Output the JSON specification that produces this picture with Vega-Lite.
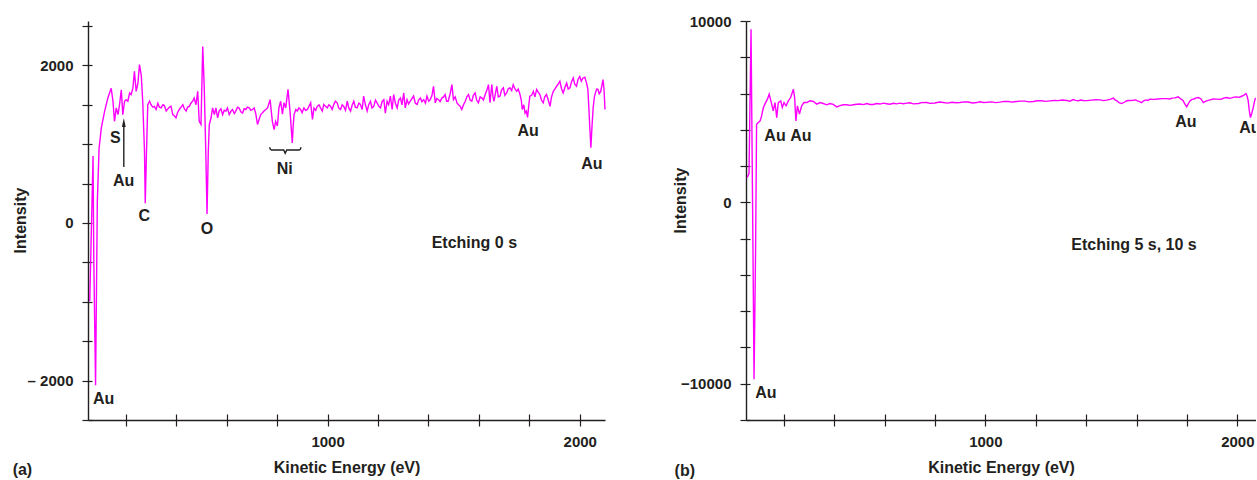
{
  "$schema": "https://vega.github.io/schema/vega-lite/v6.json",
  "padding": {"left": 12, "top": 14, "right": 0, "bottom": 0},
  "background": "white",
  "bounds": "flush",
  "spacing": 141,
  "config": {
    "font": "Liberation Sans",
    "view": {"stroke": null},
    "axis": {
      "grid": false,
      "domainColor": "#231f20", "domainWidth": 1.4,
      "tickColor": "#231f20", "tickWidth": 1.2, "tickSize": 6,
      "labelColor": "#231f20", "labelFont": "Liberation Sans", "labelFontSize": 15, "labelFontWeight": "bold",
      "titleColor": "#231f20", "titleFont": "Liberation Sans", "titleFontSize": 16, "titleFontWeight": "bold",
      "labelOverlap": false, "labelFlush": false, "labelBound": false
    }
  },
  "datasets": {
    "specA": [
      {"E":57,"I":-990},{"E":70,"I":850},{"E":73,"I":-480},{"E":80,"I":-2060},{"E":87,"I":280},{"E":94,"I":950},{"E":103,"I":1210},{"E":116,"I":1420},{"E":129,"I":1590},{"E":142,"I":1710},{"E":149,"I":1545},{"E":155,"I":1290},{"E":162,"I":1460},{"E":169,"I":1375},{"E":175,"I":1500},{"E":182,"I":1690},{"E":188,"I":1375},{"E":195,"I":1545},{"E":201,"I":1565},{"E":208,"I":1545},{"E":215,"I":1650},{"E":221,"I":1630},{"E":228,"I":1710},{"E":234,"I":1925},{"E":241,"I":1670},{"E":248,"I":1775},{"E":254,"I":2010},{"E":261,"I":1880},{"E":267,"I":1545},{"E":274,"I":910},{"E":277,"I":250},{"E":282,"I":910},{"E":287,"I":1500},{"E":294,"I":1545},{"E":300,"I":1500},{"E":307,"I":1470},{"E":313,"I":1480},{"E":320,"I":1440},{"E":327,"I":1520},{"E":333,"I":1470},{"E":340,"I":1460},{"E":347,"I":1500},{"E":353,"I":1490},{"E":360,"I":1420},{"E":366,"I":1445},{"E":373,"I":1470},{"E":379,"I":1480},{"E":386,"I":1375},{"E":392,"I":1360},{"E":399,"I":1335},{"E":405,"I":1400},{"E":412,"I":1440},{"E":419,"I":1470},{"E":426,"I":1500},{"E":432,"I":1450},{"E":439,"I":1420},{"E":445,"I":1470},{"E":452,"I":1480},{"E":458,"I":1520},{"E":465,"I":1545},{"E":471,"I":1585},{"E":478,"I":1500},{"E":485,"I":1670},{"E":491,"I":1290},{"E":498,"I":1250},{"E":505,"I":2240},{"E":511,"I":1710},{"E":517,"I":910},{"E":522,"I":115},{"E":527,"I":910},{"E":531,"I":1250},{"E":538,"I":1335},{"E":544,"I":1460},{"E":551,"I":1375},{"E":557,"I":1460},{"E":564,"I":1335},{"E":570,"I":1420},{"E":577,"I":1450},{"E":584,"I":1375},{"E":590,"I":1430},{"E":597,"I":1420},{"E":603,"I":1460},{"E":610,"I":1375},{"E":617,"I":1420},{"E":623,"I":1440},{"E":630,"I":1390},{"E":636,"I":1420},{"E":643,"I":1470},{"E":649,"I":1460},{"E":656,"I":1410},{"E":663,"I":1395},{"E":669,"I":1450},{"E":676,"I":1440},{"E":682,"I":1470},{"E":689,"I":1460},{"E":696,"I":1430},{"E":702,"I":1440},{"E":709,"I":1460},{"E":715,"I":1390},{"E":722,"I":1250},{"E":729,"I":1320},{"E":735,"I":1375},{"E":742,"I":1400},{"E":748,"I":1420},{"E":755,"I":1440},{"E":762,"I":1460},{"E":772,"I":1565},{"E":781,"I":1290},{"E":788,"I":1185},{"E":794,"I":1290},{"E":801,"I":1230},{"E":807,"I":1460},{"E":814,"I":1545},{"E":821,"I":1380},{"E":827,"I":1525},{"E":834,"I":1460},{"E":843,"I":1695},{"E":851,"I":1420},{"E":856,"I":1200},{"E":860,"I":1015},{"E":864,"I":1250},{"E":867,"I":1375},{"E":874,"I":1440},{"E":880,"I":1420},{"E":886,"I":1460},{"E":893,"I":1440},{"E":899,"I":1400},{"E":906,"I":1460},{"E":913,"I":1430},{"E":920,"I":1440},{"E":926,"I":1480},{"E":933,"I":1525},{"E":940,"I":1315},{"E":946,"I":1460},{"E":953,"I":1430},{"E":959,"I":1480},{"E":966,"I":1500},{"E":972,"I":1460},{"E":979,"I":1420},{"E":985,"I":1505},{"E":992,"I":1480},{"E":999,"I":1460},{"E":1005,"I":1500},{"E":1012,"I":1480},{"E":1018,"I":1440},{"E":1025,"I":1505},{"E":1031,"I":1545},{"E":1038,"I":1525},{"E":1044,"I":1460},{"E":1051,"I":1440},{"E":1058,"I":1500},{"E":1064,"I":1480},{"E":1071,"I":1430},{"E":1078,"I":1545},{"E":1084,"I":1460},{"E":1091,"I":1420},{"E":1097,"I":1490},{"E":1104,"I":1545},{"E":1110,"I":1470},{"E":1117,"I":1460},{"E":1124,"I":1520},{"E":1130,"I":1505},{"E":1137,"I":1440},{"E":1143,"I":1610},{"E":1150,"I":1500},{"E":1157,"I":1420},{"E":1163,"I":1500},{"E":1170,"I":1545},{"E":1176,"I":1460},{"E":1183,"I":1480},{"E":1190,"I":1560},{"E":1196,"I":1525},{"E":1203,"I":1480},{"E":1210,"I":1460},{"E":1216,"I":1540},{"E":1223,"I":1565},{"E":1229,"I":1395},{"E":1236,"I":1545},{"E":1242,"I":1500},{"E":1249,"I":1610},{"E":1256,"I":1440},{"E":1262,"I":1630},{"E":1269,"I":1520},{"E":1276,"I":1460},{"E":1282,"I":1560},{"E":1289,"I":1585},{"E":1295,"I":1500},{"E":1302,"I":1650},{"E":1308,"I":1460},{"E":1315,"I":1565},{"E":1321,"I":1510},{"E":1328,"I":1545},{"E":1335,"I":1580},{"E":1341,"I":1610},{"E":1348,"I":1520},{"E":1355,"I":1505},{"E":1361,"I":1560},{"E":1368,"I":1585},{"E":1374,"I":1540},{"E":1381,"I":1565},{"E":1388,"I":1520},{"E":1394,"I":1610},{"E":1401,"I":1545},{"E":1407,"I":1565},{"E":1414,"I":1620},{"E":1420,"I":1735},{"E":1427,"I":1525},{"E":1433,"I":1580},{"E":1440,"I":1565},{"E":1446,"I":1540},{"E":1453,"I":1585},{"E":1460,"I":1600},{"E":1466,"I":1630},{"E":1472,"I":1545},{"E":1478,"I":1545},{"E":1486,"I":1640},{"E":1493,"I":1755},{"E":1499,"I":1565},{"E":1506,"I":1600},{"E":1513,"I":1525},{"E":1519,"I":1500},{"E":1526,"I":1480},{"E":1532,"I":1440},{"E":1539,"I":1500},{"E":1546,"I":1545},{"E":1552,"I":1600},{"E":1559,"I":1630},{"E":1565,"I":1560},{"E":1572,"I":1545},{"E":1578,"I":1620},{"E":1585,"I":1650},{"E":1591,"I":1560},{"E":1598,"I":1525},{"E":1605,"I":1600},{"E":1612,"I":1585},{"E":1618,"I":1560},{"E":1625,"I":1630},{"E":1631,"I":1680},{"E":1638,"I":1755},{"E":1644,"I":1525},{"E":1651,"I":1755},{"E":1656,"I":1600},{"E":1660,"I":1545},{"E":1666,"I":1650},{"E":1671,"I":1735},{"E":1677,"I":1600},{"E":1684,"I":1610},{"E":1690,"I":1690},{"E":1697,"I":1715},{"E":1703,"I":1620},{"E":1710,"I":1650},{"E":1716,"I":1700},{"E":1723,"I":1715},{"E":1730,"I":1680},{"E":1736,"I":1755},{"E":1743,"I":1700},{"E":1750,"I":1670},{"E":1756,"I":1700},{"E":1763,"I":1630},{"E":1768,"I":1560},{"E":1772,"I":1440},{"E":1778,"I":1500},{"E":1783,"I":1395},{"E":1788,"I":1420},{"E":1793,"I":1340},{"E":1798,"I":1500},{"E":1802,"I":1610},{"E":1809,"I":1620},{"E":1816,"I":1670},{"E":1822,"I":1600},{"E":1829,"I":1695},{"E":1835,"I":1660},{"E":1842,"I":1630},{"E":1848,"I":1560},{"E":1855,"I":1525},{"E":1861,"I":1600},{"E":1868,"I":1630},{"E":1875,"I":1560},{"E":1882,"I":1480},{"E":1888,"I":1600},{"E":1895,"I":1670},{"E":1901,"I":1700},{"E":1908,"I":1735},{"E":1914,"I":1760},{"E":1921,"I":1800},{"E":1928,"I":1700},{"E":1934,"I":1650},{"E":1941,"I":1720},{"E":1948,"I":1775},{"E":1954,"I":1700},{"E":1961,"I":1715},{"E":1967,"I":1790},{"E":1974,"I":1840},{"E":1980,"I":1760},{"E":1987,"I":1735},{"E":1993,"I":1820},{"E":2000,"I":1860},{"E":2006,"I":1800},{"E":2013,"I":1840},{"E":2020,"I":1850},{"E":2027,"I":1775},{"E":2032,"I":1700},{"E":2036,"I":1460},{"E":2040,"I":1200},{"E":2044,"I":955},{"E":2048,"I":1200},{"E":2053,"I":1460},{"E":2058,"I":1600},{"E":2062,"I":1650},{"E":2067,"I":1700},{"E":2072,"I":1695},{"E":2077,"I":1640},{"E":2083,"I":1670},{"E":2088,"I":1750},{"E":2092,"I":1820},{"E":2096,"I":1700},{"E":2100,"I":1440}
    ],
    "specB": [
      {"E":55,"I":1368},{"E":62,"I":1600},{"E":70,"I":9545},{"E":76,"I":80},{"E":82,"I":-9754},{"E":88,"I":-2670},{"E":92,"I":4307},{"E":99,"I":4400},{"E":106,"I":4494},{"E":112,"I":4770},{"E":119,"I":5227},{"E":125,"I":5415},{"E":135,"I":5690},{"E":142,"I":5966},{"E":152,"I":5415},{"E":158,"I":5045},{"E":165,"I":5503},{"E":172,"I":4676},{"E":178,"I":5503},{"E":188,"I":5597},{"E":194,"I":5227},{"E":201,"I":5503},{"E":209,"I":5321},{"E":218,"I":5597},{"E":227,"I":5779},{"E":238,"I":6236},{"E":243,"I":5779},{"E":248,"I":4494},{"E":254,"I":5321},{"E":262,"I":4863},{"E":271,"I":5321},{"E":280,"I":5503},{"E":291,"I":5503},{"E":304,"I":5597},{"E":317,"I":5560},{"E":331,"I":5415},{"E":344,"I":5500},{"E":357,"I":5450},{"E":370,"I":5376},{"E":383,"I":5450},{"E":396,"I":5400},{"E":410,"I":5266},{"E":423,"I":5330},{"E":436,"I":5380},{"E":450,"I":5380},{"E":463,"I":5350},{"E":476,"I":5380},{"E":489,"I":5410},{"E":502,"I":5420},{"E":516,"I":5390},{"E":529,"I":5448},{"E":542,"I":5400},{"E":555,"I":5400},{"E":568,"I":5450},{"E":582,"I":5420},{"E":595,"I":5470},{"E":608,"I":5440},{"E":621,"I":5410},{"E":635,"I":5460},{"E":648,"I":5430},{"E":661,"I":5470},{"E":674,"I":5440},{"E":688,"I":5470},{"E":701,"I":5490},{"E":714,"I":5430},{"E":734,"I":5450},{"E":747,"I":5500},{"E":767,"I":5503},{"E":780,"I":5460},{"E":800,"I":5480},{"E":817,"I":5530},{"E":834,"I":5503},{"E":850,"I":5470},{"E":867,"I":5520},{"E":883,"I":5490},{"E":899,"I":5503},{"E":916,"I":5540},{"E":932,"I":5530},{"E":949,"I":5480},{"E":966,"I":5503},{"E":979,"I":5550},{"E":992,"I":5510},{"E":1008,"I":5520},{"E":1025,"I":5540},{"E":1041,"I":5500},{"E":1058,"I":5530},{"E":1074,"I":5570},{"E":1091,"I":5560},{"E":1107,"I":5530},{"E":1124,"I":5558},{"E":1140,"I":5580},{"E":1157,"I":5580},{"E":1173,"I":5540},{"E":1190,"I":5560},{"E":1206,"I":5600},{"E":1223,"I":5600},{"E":1239,"I":5570},{"E":1256,"I":5597},{"E":1272,"I":5620},{"E":1289,"I":5610},{"E":1305,"I":5640},{"E":1322,"I":5620},{"E":1335,"I":5580},{"E":1349,"I":5670},{"E":1358,"I":5620},{"E":1368,"I":5600},{"E":1378,"I":5640},{"E":1388,"I":5620},{"E":1404,"I":5610},{"E":1421,"I":5640},{"E":1438,"I":5660},{"E":1455,"I":5650},{"E":1468,"I":5610},{"E":1481,"I":5640},{"E":1495,"I":5680},{"E":1508,"I":5746},{"E":1515,"I":5650},{"E":1522,"I":5600},{"E":1530,"I":5500},{"E":1541,"I":5448},{"E":1551,"I":5520},{"E":1561,"I":5600},{"E":1574,"I":5620},{"E":1587,"I":5630},{"E":1596,"I":5650},{"E":1604,"I":5600},{"E":1612,"I":5560},{"E":1620,"I":5503},{"E":1628,"I":5600},{"E":1637,"I":5650},{"E":1645,"I":5620},{"E":1653,"I":5690},{"E":1669,"I":5680},{"E":1686,"I":5700},{"E":1702,"I":5720},{"E":1719,"I":5720},{"E":1732,"I":5700},{"E":1740,"I":5750},{"E":1752,"I":5760},{"E":1765,"I":5817},{"E":1776,"I":5700},{"E":1785,"I":5600},{"E":1792,"I":5420},{"E":1799,"I":5266},{"E":1806,"I":5450},{"E":1812,"I":5597},{"E":1820,"I":5680},{"E":1828,"I":5700},{"E":1836,"I":5760},{"E":1845,"I":5779},{"E":1856,"I":5700},{"E":1865,"I":5503},{"E":1872,"I":5560},{"E":1878,"I":5600},{"E":1891,"I":5650},{"E":1904,"I":5700},{"E":1918,"I":5690},{"E":1928,"I":5680},{"E":1938,"I":5700},{"E":1948,"I":5760},{"E":1958,"I":5779},{"E":1968,"I":5740},{"E":1977,"I":5760},{"E":1987,"I":5800},{"E":1997,"I":5817},{"E":2007,"I":5790},{"E":2017,"I":5850},{"E":2025,"I":5900},{"E":2034,"I":5999},{"E":2039,"I":5850},{"E":2043,"I":5597},{"E":2048,"I":5000},{"E":2052,"I":4676},{"E":2057,"I":4900},{"E":2063,"I":5227},{"E":2070,"I":5690},{"E":2078,"I":5779},{"E":2090,"I":5800}
    ],
    "labelsA": [
      {"E":158,"I":1079,"t":"S"},
      {"E":191,"I":533,"t":"Au"},
      {"E":273,"I":89,"t":"C"},
      {"E":522,"I":-76,"t":"O"},
      {"E":830,"I":689,"t":"Ni"},
      {"E":1795,"I":1167,"t":"Au"},
      {"E":2048,"I":745,"t":"Au"},
      {"E":112,"I":-2237,"t":"Au"},
      {"E":1582,"I":-254,"t":"Etching 0 s"},
      {"E":-210,"I":-3134,"t":"(a)"}
    ],
    "labelsB": [
      {"E":165,"I":3661,"t":"Au","c":false},
      {"E":268,"I":3661,"t":"Au","c":false},
      {"E":129,"I":-10493,"t":"Au","c":false},
      {"E":1796,"I":4450,"t":"Au","c":false},
      {"E":2050,"I":4119,"t":"Au","c":true},
      {"E":1590,"I":-2349,"t":"Etching 5 s, 10 s","c":false},
      {"E":-193,"I":-14811,"t":"(b)","c":false}
    ],
    "arrowLine": [{"E":192,"I":711,"I2":1231}],
    "arrowHead": [{"E":192,"I":1269}],
    "brace": [
      {"E":770,"I":960},{"E":773,"I":935},{"E":778,"I":926},{"E":826,"I":926},{"E":832,"I":885},{"E":838,"I":926},{"E":887,"I":926},{"E":892,"I":935},{"E":895,"I":960}
    ]
  },
  "hconcat": [
    {
      "width": 517,
      "height": 399,
      "layer": [
        {
          "layer": [
            {
              "data": {"name": "specA"},
              "mark": {"type": "line", "color": "#ff00ff", "strokeWidth": 1.4},
              "encoding": {
                "x": {"field": "E", "type": "quantitative", "scale": {"domain": [50, 2100], "nice": false, "zero": false},
                  "axis": {"values": [200,400,600,800,1000,1200,1400,1600,1800,2000], "tickCount": 30, "labelExpr": "datum.value == 1000 ? '1000' : datum.value == 2000 ? '2000' : ''", "labelOverlap": false, "labelPadding": 8, "title": "Kinetic Energy (eV)", "titleY": 52, "titleBaseline": "alphabetic"}},
                "y": {"field": "I", "type": "quantitative", "scale": {"domain": [-2500, 2563], "nice": false, "zero": false},
                  "axis": {"values": [-2500,-2000,-1500,-1000,-500,0,500,1000,1500,2000,2500], "tickCount": 30, "labelExpr": "datum.value == 2000 ? '2000' : datum.value == 0 ? '0' : datum.value == -2000 ? '– 2000' : ''", "labelOverlap": false, "labelPadding": 9, "title": "Intensity", "titleX": -63, "titleY": 199, "titleAngle": 270, "titleAlign": "center", "titleBaseline": "alphabetic"}}
              }
            },
            {
              "data": {"name": "brace"},
              "mark": {"type": "line", "color": "#231f20", "strokeWidth": 1.4},
              "encoding": {
                "x": {"field": "E", "type": "quantitative", "scale": {"domain": [50, 2100], "nice": false, "zero": false}},
                "y": {"field": "I", "type": "quantitative", "scale": {"domain": [-2500, 2563], "nice": false, "zero": false}}
              }
            },
            {
              "data": {"name": "arrowLine"},
              "mark": {"type": "rule", "color": "#231f20", "strokeWidth": 1.4},
              "encoding": {
                "x": {"field": "E", "type": "quantitative", "scale": {"domain": [50, 2100], "nice": false, "zero": false}},
                "y": {"field": "I", "type": "quantitative", "scale": {"domain": [-2500, 2563], "nice": false, "zero": false}},
                "y2": {"field": "I2"}
              }
            },
            {
              "data": {"name": "arrowHead"},
              "mark": {"type": "point", "shape": "M0,-1L0.38,0.8L-0.38,0.8Z", "size": 100, "filled": true, "color": "#231f20", "opacity": 1},
              "encoding": {
                "x": {"field": "E", "type": "quantitative", "scale": {"domain": [50, 2100], "nice": false, "zero": false}},
                "y": {"field": "I", "type": "quantitative", "scale": {"domain": [-2500, 2563], "nice": false, "zero": false}}
              }
            },
            {
              "data": {"name": "labelsA"},
              "mark": {"type": "text", "fontSize": 16, "fontWeight": "bold", "color": "#231f20", "align": "center", "baseline": "middle"},
              "encoding": {
                "x": {"field": "E", "type": "quantitative", "scale": {"domain": [50, 2100], "nice": false, "zero": false}},
                "y": {"field": "I", "type": "quantitative", "scale": {"domain": [-2500, 2563], "nice": false, "zero": false}},
                "text": {"field": "t"}
              }
            }
          ]
        },
        {
          "data": {"name": "specA"},
          "mark": {"type": "point", "opacity": 0},
          "encoding": {
            "x": {"field": "E", "type": "quantitative", "scale": {"domain": [50, 2100], "nice": false, "zero": false},
              "axis": {"orient": "bottom", "values": [200,400,600,800,1000,1200,1400,1600,1800,2000], "tickCount": 30, "tickSize": -6, "labels": false, "domain": false, "title": null}},
            "y": {"field": "I", "type": "quantitative", "scale": {"domain": [-2500, 2563], "nice": false, "zero": false},
              "axis": {"orient": "left", "values": [-2500,-2000,-1500,-1000,-500,0,500,1000,1500,2000,2500], "tickCount": 30, "tickSize": -4, "labels": false, "domain": false, "title": null}}
          }
        }
      ],
      "resolve": {"scale": {"x": "independent", "y": "independent"}, "axis": {"x": "independent", "y": "independent"}}
    },
    {
      "width": 510,
      "height": 399,
      "layer": [
        {
          "layer": [
            {
              "data": {"name": "specB"},
              "mark": {"type": "line", "color": "#ff00ff", "strokeWidth": 1.4, "clip": true},
              "encoding": {
                "x": {"field": "E", "type": "quantitative", "scale": {"domain": [50, 2074], "nice": false, "zero": false},
                  "axis": {"values": [200,400,600,800,1000,1200,1400,1600,1800,2000], "tickCount": 30, "labelExpr": "datum.value == 1000 ? '1000' : datum.value == 2000 ? '2000' : ''", "labelOverlap": false, "labelPadding": 8, "title": "Kinetic Energy (eV)", "titleY": 52, "titleBaseline": "alphabetic"}},
                "y": {"field": "I", "type": "quantitative", "scale": {"domain": [-12000, 10000], "nice": false, "zero": false},
                  "axis": {"values": [-12000,-10000,-8000,-6000,-4000,-2000,0,2000,4000,6000,8000,10000], "tickCount": 30, "labelExpr": "datum.value == 10000 ? '10000' : datum.value == 0 ? '0' : datum.value == -10000 ? '−10000' : ''", "labelOverlap": false, "labelPadding": 9, "title": "Intensity", "titleX": -61, "titleY": 179, "titleAngle": 270, "titleAlign": "center", "titleBaseline": "alphabetic"}}
              }
            },
            {
              "data": {"name": "labelsB"},
              "transform": [{"filter": "!datum.c"}],
              "mark": {"type": "text", "fontSize": 16, "fontWeight": "bold", "color": "#231f20", "align": "center", "baseline": "middle"},
              "encoding": {
                "x": {"field": "E", "type": "quantitative", "scale": {"domain": [50, 2074], "nice": false, "zero": false}},
                "y": {"field": "I", "type": "quantitative", "scale": {"domain": [-12000, 10000], "nice": false, "zero": false}},
                "text": {"field": "t"}
              }
            },
            {
              "data": {"name": "labelsB"},
              "transform": [{"filter": "datum.c"}],
              "mark": {"type": "text", "fontSize": 16, "fontWeight": "bold", "color": "#231f20", "align": "center", "baseline": "middle", "clip": true},
              "encoding": {
                "x": {"field": "E", "type": "quantitative", "scale": {"domain": [50, 2074], "nice": false, "zero": false}},
                "y": {"field": "I", "type": "quantitative", "scale": {"domain": [-12000, 10000], "nice": false, "zero": false}},
                "text": {"field": "t"}
              }
            }
          ]
        },
        {
          "data": {"name": "specB"},
          "mark": {"type": "point", "opacity": 0, "clip": true},
          "encoding": {
            "x": {"field": "E", "type": "quantitative", "scale": {"domain": [50, 2074], "nice": false, "zero": false},
              "axis": {"orient": "bottom", "values": [200,400,600,800,1000,1200,1400,1600,1800,2000], "tickCount": 30, "tickSize": -6, "labels": false, "domain": false, "title": null}},
            "y": {"field": "I", "type": "quantitative", "scale": {"domain": [-12000, 10000], "nice": false, "zero": false},
              "axis": {"orient": "left", "values": [-12000,-10000,-8000,-6000,-4000,-2000,0,2000,4000,6000,8000,10000], "tickCount": 30, "tickSize": -4, "labels": false, "domain": false, "title": null}}
          }
        }
      ],
      "resolve": {"scale": {"x": "independent", "y": "independent"}, "axis": {"x": "independent", "y": "independent"}}
    }
  ]
}
